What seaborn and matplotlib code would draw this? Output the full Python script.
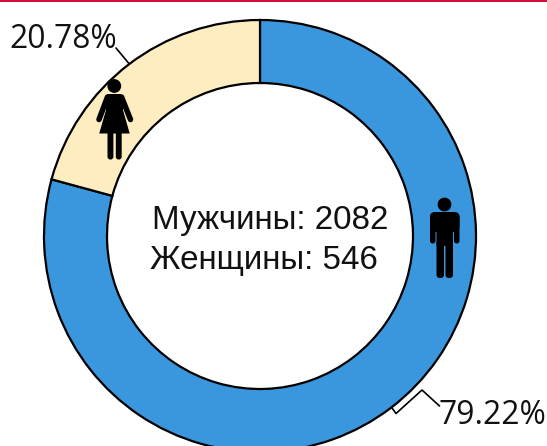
import matplotlib
matplotlib.use("Agg")
import matplotlib.pyplot as plt
from matplotlib.patches import Circle, FancyBboxPatch, Polygon, Rectangle
import seaborn as sns

groups = ["Мужчины", "Женщины"]
counts = [2082, 546]
colors = ["#3A97DE", "#FDEDC0"]

sns.set_theme(style="white")
palette = sns.color_palette(colors)
W, H = 547, 446
fig = plt.figure(figsize=(W / 100, H / 100), dpi=100, facecolor="white")

ax = fig.add_axes([0, 0, 1, 1])
ax.pie(counts, colors=palette, startangle=90, counterclock=False,
       center=(260, H - 236), radius=216, frame=True,
       wedgeprops=dict(width=63, edgecolor="black", linewidth=1.6))
ax.set_xlim(0, W)
ax.set_ylim(0, H)
ax.set_aspect("equal")
ax.axis("off")

ov = fig.add_axes([0, 0, 1, 1])
ov.set_xlim(0, W)
ov.set_ylim(H, 0)
ov.axis("off")
ov.patch.set_alpha(0)

ov.add_patch(Rectangle((0, 0), W, 2.2, color="#D0103A", lw=0))


def rbox(x0, y0, x1, y1, r):
    ov.add_patch(FancyBboxPatch((x0 + r, y0 + r), x1 - x0 - 2 * r, y1 - y0 - 2 * r,
                                boxstyle=f"round,pad={r},rounding_size={r}",
                                fc="black", ec="none", lw=0))


# male icon
ov.add_patch(Circle((444.5, 204.5), 6.9, fc="black", ec="none"))
rbox(430, 212, 459.5, 232, 5)
rbox(430, 214, 435.5, 243.5, 2.7)
rbox(454, 214, 459.5, 243.5, 2.7)
rbox(436.5, 214, 453, 246, 0.5)
rbox(436.5, 240, 444, 278, 3.5)
rbox(445.5, 240, 453, 278, 3.5)

# female icon
ov.add_patch(Circle((114.3, 86), 6.9, fc="black", ec="none"))
ov.add_patch(Polygon([(108, 94), (121, 94), (123.5, 97), (123, 110), (129.7, 133.5),
                      (99.2, 133.5), (106, 110), (105.5, 97)], fc="black", ec="none"))
ov.plot([107.5, 99], [97, 119.5], color="black", lw=4.0, solid_capstyle="round")
ov.plot([121.5, 130.5], [97, 119.5], color="black", lw=4.0, solid_capstyle="round")
rbox(107.5, 130, 113.4, 159.5, 2.8)
rbox(115.8, 130, 121.7, 159.5, 2.8)

# leader lines
ov.plot([128.5, 116], [63, 48], color="black", lw=1.2)
ov.plot([392, 396, 422, 439.5], [408, 413.5, 390, 406], color="black", lw=1.2)

total = sum(counts)
ov.text(9, 40, f"{counts[1] / total * 100:.2f}%", family="Open Sans", fontsize=22.9,
        ha="left", va="center", color="#111111")
ov.text(439, 415, f"{counts[0] / total * 100:.2f}%", family="Open Sans", fontsize=22.9,
        ha="left", va="center", color="#111111")
ov.text(152, 220, f"{groups[0]}: {counts[0]}", family="Liberation Sans", fontsize=23.9,
        ha="left", va="center", color="#111111")
ov.text(150, 260, f"{groups[1]}: {counts[1]}", family="Liberation Sans", fontsize=23.9,
        ha="left", va="center", color="#111111")

fig.savefig("out.png", dpi=100, facecolor="white")
